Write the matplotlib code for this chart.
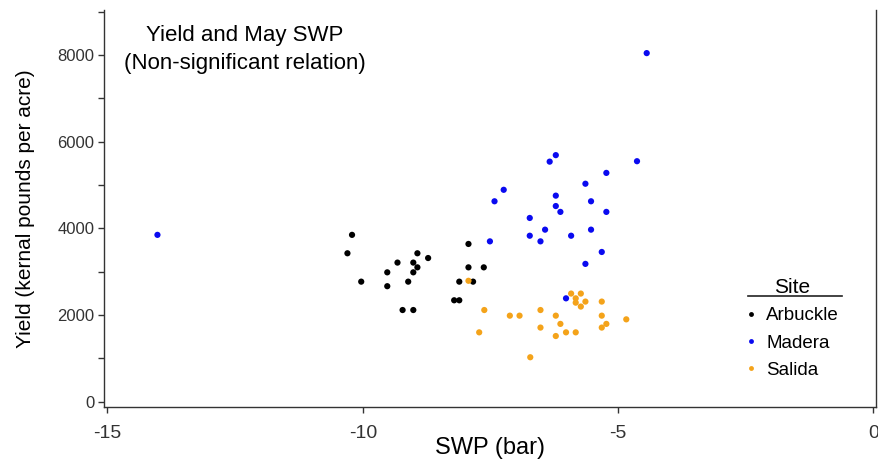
import numpy as np
import matplotlib
matplotlib.use('Agg')
import matplotlib.pyplot as plt
from matplotlib.lines import Line2D
from matplotlib.ticker import MultipleLocator

plt.rcParams['font.family'] = ['Liberation Sans', 'DejaVu Sans']
plt.rcParams['axes.unicode_minus'] = False

# Arbuckle
arb_swp = [-10.21, -10.30, -10.03, -9.52, -9.52, -9.32, -9.22, -9.01, -9.11, -9.01, -9.01,
           -8.93, -8.93, -8.72, -7.93, -7.93, -7.63, -8.11, -7.84, -8.21, -8.11]
arb_yield = [3850, 3425, 2770, 2985, 2665, 3210, 2115, 2115, 2770, 3210, 2985,
             3425, 3100, 3315, 3640, 3100, 3100, 2770, 2770, 2340, 2340]

# Madera
mad_swp = [-6.22, -6.34, -4.63, -5.23, -5.64, -7.24, -7.42, -6.22, -5.53, -6.22, -6.13, -5.23,
           -6.73, -6.43, -5.53, -6.73, -5.92, -6.52, -7.51, -5.32, -5.64, -4.44, -6.02, -14.02]
mad_yield = [5690, 5540, 5550, 5280, 5030, 4890, 4625, 4755, 4625, 4515, 4380, 4380,
             4240, 3970, 3970, 3830, 3830, 3700, 3700, 3455, 3180, 8045, 2385, 3850]

# Salida
sal_swp = [-7.93, -7.62, -7.72, -7.12, -6.93, -6.52, -6.52, -6.72, -6.22, -6.13, -6.22, -6.02,
           -5.83, -5.92, -5.73, -5.83, -5.83, -5.64, -5.73, -5.32, -5.32, -5.23, -5.32, -4.84]
sal_yield = [2790, 2115, 1600, 1985, 1985, 2115, 1710, 1025, 1985, 1795, 1515, 1600,
             1600, 2495, 2495, 2385, 2285, 2310, 2195, 2310, 1985, 1795, 1710, 1900]

sites = ['Arbuckle', 'Madera', 'Salida']
colors = ['#000000', '#0a0af0', '#f4a31a']

fig = plt.figure(figsize=(8.79, 4.65), dpi=100)
ax = fig.add_axes([0.1187, 0.1241, 0.8779, 0.8544])

for xs, ys, c in zip([arb_swp, mad_swp, sal_swp], [arb_yield, mad_yield, sal_yield], colors):
    ax.scatter(xs, ys, s=20, color=c, edgecolors='none', zorder=3)

ax.set_xlim(-15.06, 0.05)
ax.set_ylim(-130, 9040)
ax.set_xticks([-15, -10, -5, 0])
ax.yaxis.set_major_locator(MultipleLocator(2000))
ax.yaxis.set_minor_locator(MultipleLocator(1000))

spine_col = '#333333'
ax.spines['top'].set_visible(False)
for s in ['left', 'bottom', 'right']:
    ax.spines[s].set_color(spine_col)
    ax.spines[s].set_linewidth(1.0)

ax.tick_params(axis='x', which='major', length=4, width=1, color=spine_col,
               labelsize=14, labelcolor='#333333', pad=9)
ax.tick_params(axis='y', which='major', length=4, width=1, color=spine_col,
               labelsize=12, labelcolor='#333333', pad=3)
ax.tick_params(axis='y', which='minor', length=4, width=1, color=spine_col)

ax.set_xlabel('SWP (bar)', fontsize=17, labelpad=-4)
ax.set_ylabel('Yield (kernal pounds per acre)', fontsize=15, labelpad=16)

ax.text(0.182, 0.962, 'Yield and May SWP\n(Non-significant relation)', transform=ax.transAxes,
        ha='center', va='top', fontsize=16, linespacing=1.45)

# legend
handles = [Line2D([], [], marker='o', linestyle='none', markersize=3.5,
                  markerfacecolor=c, markeredgecolor='none') for c in colors]
leg = ax.legend(handles, sites, title='Site', loc='upper left',
                bbox_to_anchor=(0.821, 0.345), frameon=False, fontsize=13.5,
                title_fontsize=15, handlelength=0.6, handletextpad=0.5,
                labelspacing=0.55, borderaxespad=0)
fig.add_artist(Line2D([748 / 879, 842 / 879], [1 - 296 / 465, 1 - 296 / 465],
                      transform=fig.transFigure, color='#222222', linewidth=1.2))

fig.savefig('out.png', dpi=100)
